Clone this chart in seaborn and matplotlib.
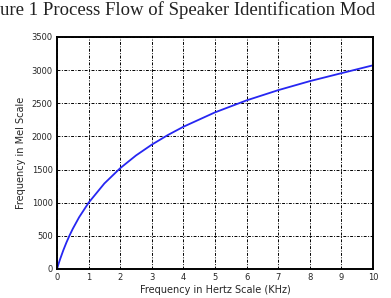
import matplotlib
matplotlib.use("Agg")
import matplotlib.pyplot as plt
import seaborn as sns
import pandas as pd

freq_khz = [0, 0.05, 0.1, 0.2, 0.3, 0.4, 0.5, 0.7, 1, 1.5, 2, 2.5, 3, 3.5, 4, 5, 6, 7, 8, 9, 10]
mel = [0, 78, 150, 283, 402, 509, 607, 781, 1000, 1291, 1521, 1713, 1876, 2019, 2146, 2363, 2544, 2698, 2834, 2954, 3073]
x_ticks = [0, 1, 2, 3, 4, 5, 6, 7, 8, 9, 10]
y_ticks = [0, 500, 1000, 1500, 2000, 2500, 3000, 3500]

sns.set_style("white")
plt.rcParams['font.family'] = ['DejaVu Sans']

df = pd.DataFrame({"f": freq_khz, "m": mel})
fig = plt.figure(figsize=(3.91, 2.98), dpi=100)
ax = fig.add_axes([57/391, 1 - 269/298, (373-57)/391, (269-37)/298])
sns.lineplot(data=df, x="f", y="m", ax=ax, color=(0.15, 0.15, 0.95), linewidth=1.3)
ax.set_xlim(0, 10)
ax.set_ylim(0, 3500)
ax.set_xticks(x_ticks)
ax.set_yticks(y_ticks)
ax.set_xticklabels([str(t) for t in x_ticks], fontsize=6)
ax.set_yticklabels([str(t) for t in y_ticks], fontsize=6)
ax.tick_params(length=0, pad=3)
ax.grid(True, color="black", linestyle=(0, (3, 1.5, 1, 1.5)), linewidth=0.7)
for s in ax.spines.values():
    s.set_color("black")
    s.set_linewidth(1.4)
ax.set_xlabel("Frequency in Hertz Scale (KHz)", fontsize=7, labelpad=2)
ax.set_ylabel("Frequency in Mel Scale", fontsize=7, labelpad=4)
fig.text(0.0, 0.997, "ure 1 Process Flow of Speaker Identification Mod",
         family="Liberation Serif", fontsize=13.5, va="top", ha="left", color="#222222")
fig.savefig("out.png", dpi=100)
